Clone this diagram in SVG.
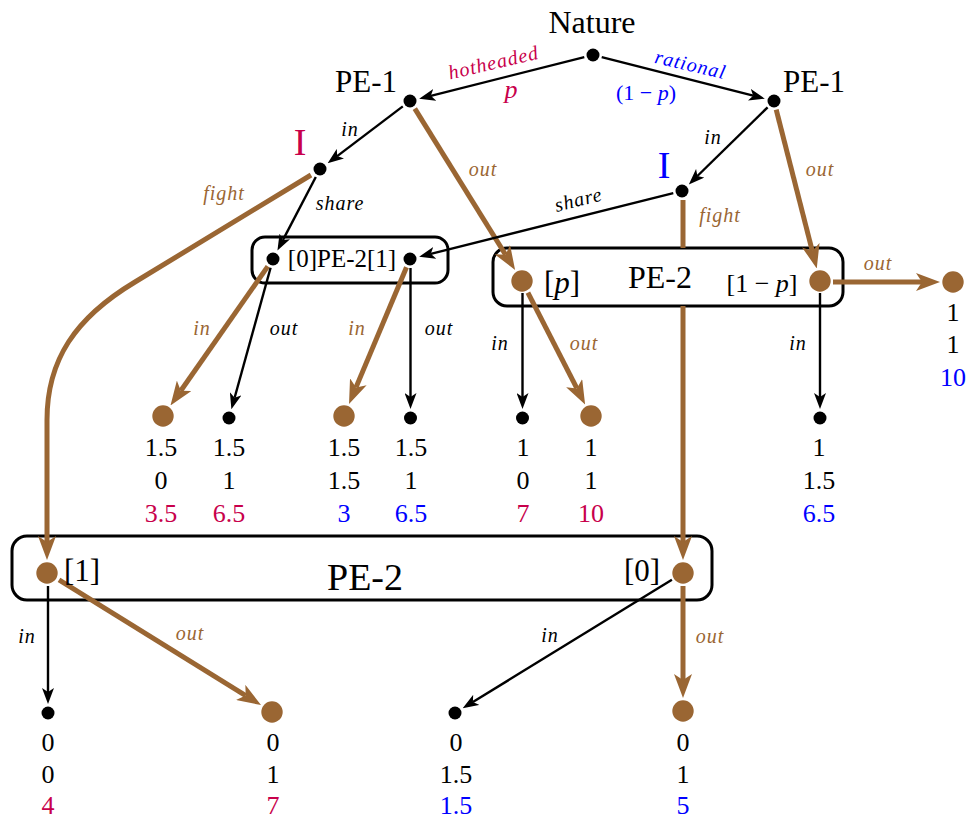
<svg xmlns="http://www.w3.org/2000/svg" width="969" height="821" viewBox="0 0 969 821">
<style>
text{font-family:"Liberation Serif","Times New Roman",serif;fill:#000}
.c{fill:#C8004B}.b{fill:#0000FF}.br{fill:#9A6633}
.lab{font-size:20px;font-style:italic;letter-spacing:1px;text-anchor:middle}
.pay{font-size:26px;text-anchor:middle}
.nm{font-size:31px;text-anchor:middle}
.dot{fill:#000}
.bdot{fill:#9A6633}
.box{fill:none;stroke:#000;stroke-width:3}
.k{stroke:#000;stroke-width:2.4;fill:none;marker-end:url(#ak)}
.w{stroke:#9A6633;stroke-width:5;fill:none;marker-end:url(#aw)}
.wn{stroke:#9A6633;stroke-width:5;fill:none}
</style>
<defs>
<marker id="ak" viewBox="0 0 16 12" markerWidth="16" markerHeight="12" refX="4" refY="6" orient="auto" markerUnits="userSpaceOnUse">
<path d="M0,0 L16,6 L0,12 L4,6 Z" fill="#000"/>
</marker>
<marker id="aw" viewBox="0 0 24 18" markerWidth="24" markerHeight="18" refX="6" refY="9" orient="auto" markerUnits="userSpaceOnUse">
<path d="M0,0 L24,9 L0,18 L6,9 Z" fill="#9A6633"/>
</marker>
</defs>

<g id="boxes">
<rect class="box" x="252" y="237" width="196" height="46" rx="13"/>
<rect class="box" x="493" y="248" width="350" height="58" rx="14"/>
<rect class="box" x="12" y="536" width="700" height="64" rx="15"/>
</g>

<g id="connectors">
<line class="k" x1="584.3" y1="57.2" x2="430.8" y2="95.8"/>
<line class="k" x1="601.7" y1="57.2" x2="753.2" y2="95.7"/>
<line class="k" x1="402.8" y1="106.4" x2="337.2" y2="156.1"/>
<line class="w" x1="414.8" y1="108.6" x2="505.6" y2="254.7"/>
<line class="k" x1="767.6" y1="107.3" x2="697.4" y2="176.0"/>
<line class="w" x1="776.2" y1="109.7" x2="812.3" y2="251.0"/>
<line class="k" x1="315.8" y1="177.0" x2="283.0" y2="239.9"/>
<path class="w" d="M311,175 L135,282 C75,318 47,360 47,420 L47,542"/>
<line class="k" x1="673.3" y1="193.2" x2="430.8" y2="253.8"/>
<line class="wn" x1="683" y1="200" x2="683" y2="248"/>
<line class="w" x1="683" y1="306" x2="683" y2="542"/>
<line class="w" x1="267.8" y1="266.4" x2="180.8" y2="390.7"/>
<line class="k" x1="270.6" y1="267.7" x2="234.6" y2="397.7"/>
<line class="w" x1="406.5" y1="267.3" x2="356.0" y2="387.4"/>
<line class="k" x1="410.5" y1="268" x2="410.5" y2="397"/>
<line class="k" x1="522.5" y1="293" x2="522.5" y2="397"/>
<line class="w" x1="527.9" y1="292.6" x2="576.9" y2="388.4"/>
<line class="k" x1="820" y1="293" x2="820" y2="397"/>
<line class="w" x1="833" y1="282" x2="922" y2="282"/>
<line class="k" x1="48" y1="586" x2="48" y2="692"/>
<line class="w" x1="59.0" y1="579.9" x2="245.7" y2="695.6"/>
<line class="k" x1="671.9" y1="579.8" x2="472.9" y2="702.0"/>
<line class="w" x1="683" y1="586" x2="683" y2="680"/>

<text class="lab c" transform="translate(495,69) rotate(-13)" x="0" y="0">hotheaded</text>
<text class="lab b" transform="translate(689,71) rotate(13)" x="0" y="0">rational</text>
<text class="lab" x="350" y="136">in</text>
<text class="lab br" x="483" y="176">out</text>
<text class="lab" x="340" y="210">share</text>
<text class="lab" transform="translate(580,206) rotate(-14)" x="0" y="0">share</text>
<text class="lab" x="713" y="144">in</text>
<text class="lab br" x="820" y="176">out</text>
<text class="lab br" x="720" y="222">fight</text>
<text class="lab br" x="224" y="200">fight</text>
<text class="lab br" x="202" y="335">in</text>
<text class="lab" x="284" y="335">out</text>
<text class="lab br" x="357" y="335">in</text>
<text class="lab" x="439" y="335">out</text>
<text class="lab" x="500" y="350">in</text>
<text class="lab br" x="584" y="350">out</text>
<text class="lab" x="798" y="350">in</text>
<text class="lab br" x="878" y="270">out</text>
<text class="lab" x="27" y="643">in</text>
<text class="lab br" x="190" y="640">out</text>
<text class="lab" x="550" y="642">in</text>
<text class="lab br" x="710" y="643">out</text>
</g>

<g id="nature">
<circle class="dot" cx="593" cy="55" r="6.5"/>
<text class="nm" x="592" y="33" style="font-size:32px">Nature</text>
<text class="c" x="511" y="98" style="font-size:26px;font-style:italic;text-anchor:middle">p</text>
<text class="b" x="646" y="100" style="font-size:22px;text-anchor:middle">(1 − <tspan font-style="italic">p</tspan>)</text>
</g>
<g id="pe1-left">
<circle class="dot" cx="410" cy="101" r="6.5"/>
<text class="nm" x="366" y="92">PE-1</text>
</g>
<g id="pe1-right">
<circle class="dot" cx="774" cy="101" r="6.5"/>
<text class="nm" x="814" y="92">PE-1</text>
</g>
<g id="i-left">
<circle class="dot" cx="320" cy="169" r="6.5"/>
<text class="c" x="300" y="155" style="font-size:38px;text-anchor:middle">I</text>
</g>
<g id="i-right">
<circle class="dot" cx="682" cy="191" r="6.5"/>
<text class="b" x="664" y="178" style="font-size:38px;text-anchor:middle">I</text>
</g>
<g id="pe2-share">
<circle class="dot" cx="273" cy="259" r="6.5"/>
<circle class="dot" cx="410" cy="259" r="6.5"/>
<text x="342" y="267" style="font-size:25px;text-anchor:middle">[0]PE-2[1]</text>
</g>
<g id="pe2-out">
<circle class="bdot" cx="522" cy="281" r="10.7"/>
<circle class="bdot" cx="820" cy="281" r="10.7"/>
<text x="562" y="293" style="font-size:31px;text-anchor:middle">[<tspan font-style="italic">p</tspan>]</text>
<text x="660" y="288" style="font-size:32px;text-anchor:middle">PE-2</text>
<text x="762" y="292" style="font-size:26px;text-anchor:middle">[1 − <tspan font-style="italic">p</tspan>]</text>
</g>
<g id="pe2-fight">
<circle class="bdot" cx="47" cy="573" r="10.7"/>
<circle class="bdot" cx="683" cy="573" r="10.7"/>
<text x="82" y="581" style="font-size:31px;text-anchor:middle">[1]</text>
<text x="365" y="590" style="font-size:38px;text-anchor:middle">PE-2</text>
<text x="642" y="581" style="font-size:31px;text-anchor:middle">[0]</text>
</g>

<g id="leaf1"><circle class="bdot" cx="163" cy="416" r="10.7"/>
<text class="pay" x="161" y="456">1.5</text><text class="pay" x="161" y="489">0</text><text class="pay c" x="161" y="522">3.5</text></g>
<g id="leaf2"><circle class="dot" cx="229" cy="418" r="6.5"/>
<text class="pay" x="229" y="456">1.5</text><text class="pay" x="229" y="489">1</text><text class="pay c" x="229" y="522">6.5</text></g>
<g id="leaf3"><circle class="bdot" cx="344" cy="416" r="10.7"/>
<text class="pay" x="344" y="456">1.5</text><text class="pay" x="344" y="489">1.5</text><text class="pay b" x="344" y="522">3</text></g>
<g id="leaf4"><circle class="dot" cx="410.5" cy="418" r="6.5"/>
<text class="pay" x="411" y="456">1.5</text><text class="pay" x="411" y="489">1</text><text class="pay b" x="411" y="522">6.5</text></g>
<g id="leaf5"><circle class="dot" cx="522.5" cy="418" r="6.5"/>
<text class="pay" x="523" y="456">1</text><text class="pay" x="523" y="489">0</text><text class="pay c" x="523" y="522">7</text></g>
<g id="leaf6"><circle class="bdot" cx="591" cy="416" r="10.7"/>
<text class="pay" x="591" y="456">1</text><text class="pay" x="591" y="489">1</text><text class="pay c" x="591" y="522">10</text></g>
<g id="leaf7"><circle class="dot" cx="820" cy="418" r="6.5"/>
<text class="pay" x="819" y="456">1</text><text class="pay" x="819" y="489">1.5</text><text class="pay b" x="819" y="522">6.5</text></g>
<g id="leaf8"><circle class="bdot" cx="953" cy="282" r="10.7"/>
<text class="pay" x="953" y="321">1</text><text class="pay" x="953" y="353">1</text><text class="pay b" x="953" y="386">10</text></g>
<g id="leaf9"><circle class="dot" cx="48" cy="713" r="6.5"/>
<text class="pay" x="48" y="751">0</text><text class="pay" x="48" y="783">0</text><text class="pay c" x="48" y="814">4</text></g>
<g id="leaf10"><circle class="bdot" cx="272" cy="712" r="10.7"/>
<text class="pay" x="273" y="751">0</text><text class="pay" x="273" y="783">1</text><text class="pay c" x="273" y="814">7</text></g>
<g id="leaf11"><circle class="dot" cx="455" cy="713" r="6.5"/>
<text class="pay" x="456" y="751">0</text><text class="pay" x="456" y="783">1.5</text><text class="pay b" x="456" y="814">1.5</text></g>
<g id="leaf12"><circle class="bdot" cx="683" cy="711" r="10.7"/>
<text class="pay" x="683" y="751">0</text><text class="pay" x="683" y="783">1</text><text class="pay b" x="683" y="814">5</text></g>
</svg>
